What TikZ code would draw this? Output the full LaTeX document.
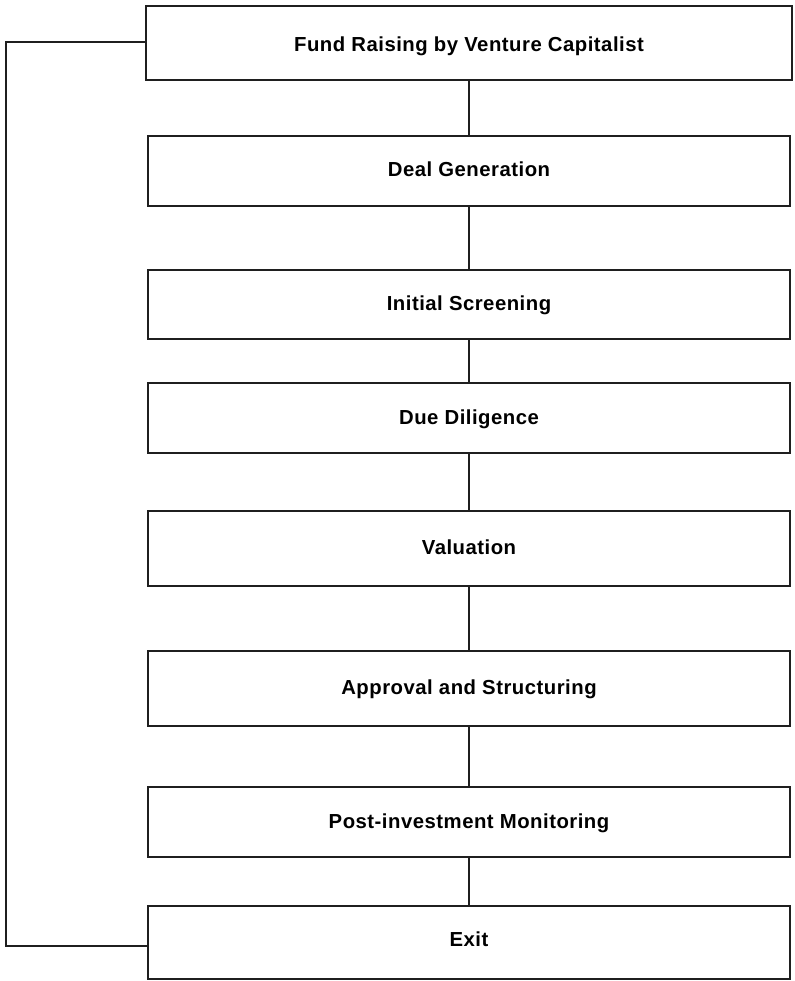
\documentclass[tikz,border=0pt]{standalone}
\usepackage{fontspec}
\setmainfont{Liberation Sans}[LetterSpace=2.5]
\begin{document}
\begin{tikzpicture}[x=1pt,y=-1pt,
  stagebox/.style={draw=black!88, line width=1.6pt, fill=white, font=\bfseries\fontsize{20.3}{22}\selectfont, inner sep=0pt, text height=12pt, text depth=0pt},
  link/.style={draw=black!88, line width=1.6pt}]
\useasboundingbox (0,0) rectangle (794,981);
\node[stagebox, minimum width=646, minimum height=74, text height=18pt] (s1) at (469,43) {Fund Raising by Venture Capitalist};
\node[stagebox, minimum width=642, minimum height=70] (s2) at (469,171) {Deal Generation};
\node[stagebox, minimum width=642, minimum height=69] (s3) at (469,304.5) {Initial Screening};
\node[stagebox, minimum width=642, minimum height=70] (s4) at (469,418) {Due Diligence};
\node[stagebox, minimum width=642, minimum height=75] (s5) at (469,548.5) {Valuation};
\node[stagebox, minimum width=642, minimum height=75] (s6) at (469,688.5) {Approval and Structuring};
\node[stagebox, minimum width=642, minimum height=70] (s7) at (469,822) {Post-investment Monitoring};
\node[stagebox, minimum width=642, minimum height=73, text height=7pt] (s8) at (469,942.5) {Exit};
\draw[link] (s1) -- (s2);
\draw[link] (s2) -- (s3);
\draw[link] (s3) -- (s4);
\draw[link] (s4) -- (s5);
\draw[link] (s5) -- (s6);
\draw[link] (s6) -- (s7);
\draw[link] (s7) -- (s8);
\coordinate (tl) at (6,42);
\coordinate (bl) at (6,946);
\draw[link] (s1.west |- tl) -- (tl) -- (bl) -- (s8.west |- bl);
\end{tikzpicture}
\end{document}
